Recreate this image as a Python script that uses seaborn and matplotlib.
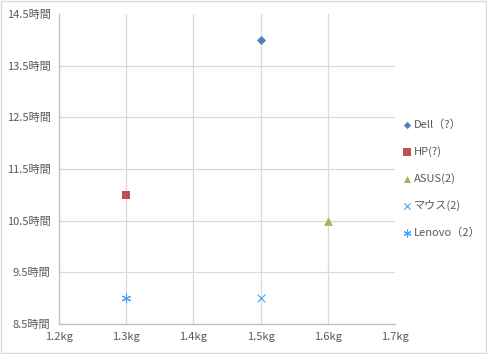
import matplotlib
matplotlib.use('Agg')
import matplotlib.pyplot as plt
from matplotlib.patches import Rectangle
from matplotlib.ticker import FuncFormatter
import seaborn as sns
import pandas as pd

# データ（メーカー別の重さとバッテリー時間）
makers = ['Dell（?）', 'HP(?)', 'ASUS(2)', 'マウス(2)', 'Lenovo（2）']
weights = [1.5, 1.3, 1.6, 1.5, 1.3]
hours = [14.0, 11.0, 10.5, 9.0, 9.0]
colors = ['#4F81BD', '#C0504D', '#9BBB59', '#3FA0FF', '#3FA0FF']
markers = ['D', 's', '^', 'x', (6, 2, 0)]
sizes = [22, 40, 40, 32, 40]

x_ticks = [1.2, 1.3, 1.4, 1.5, 1.6, 1.7]
y_ticks = [8.5, 9.5, 10.5, 11.5, 12.5, 13.5, 14.5]

df = pd.DataFrame({'maker': makers, 'weight': weights, 'hours': hours})

sns.set_style('white')
plt.rcParams['font.family'] = ['Noto Sans CJK JP', 'DejaVu Sans']

fig = plt.figure(figsize=(4.87, 3.54), dpi=100)
ax = fig.add_axes([0.121, 0.085, 0.690, 0.875])

for i, row in df.iterrows():
    sns.scatterplot(x=[row['weight']], y=[row['hours']], ax=ax, color=colors[i],
                    marker=markers[i], s=sizes[i], linewidth=0.8 if i >= 3 else 0,
                    label=row['maker'], zorder=3)

ax.set_xlim(1.2, 1.7)
ax.set_ylim(8.5, 14.5)
ax.set_xticks(x_ticks)
ax.set_yticks(y_ticks)
ax.xaxis.set_major_formatter(FuncFormatter(lambda v, p: f'{v:.1f}kg'))
ax.yaxis.set_major_formatter(FuncFormatter(lambda v, p: f'{v:.1f}時間'))
ax.tick_params(axis='both', length=0, labelsize=8, labelcolor='#595959', pad=6)
ax.set_xlabel('')
ax.set_ylabel('')

ax.grid(True, color='#D9D9D9', linewidth=0.9)
ax.set_axisbelow(True)
# 端のグリッド線は描かない
ax.get_xgridlines()[-1].set_visible(False)
ax.get_ygridlines()[-1].set_visible(False)
for side in ['top', 'right']:
    ax.spines[side].set_visible(False)
for side in ['left', 'bottom']:
    ax.spines[side].set_color('#BFBFBF')
    ax.spines[side].set_linewidth(0.9)

leg = ax.legend(loc='center left', bbox_to_anchor=(0.99, 0.47), frameon=False,
                fontsize=8, labelspacing=1.45, handletextpad=0.1, handlelength=1.0,
                markerscale=0.8)
for t in leg.get_texts():
    t.set_color('#595959')

fig.patches.append(Rectangle((0.002, 0.003), 0.995, 0.993, transform=fig.transFigure,
                             fill=False, edgecolor='#D9D9D9', linewidth=1.0))

fig.savefig('out.png', dpi=100)
